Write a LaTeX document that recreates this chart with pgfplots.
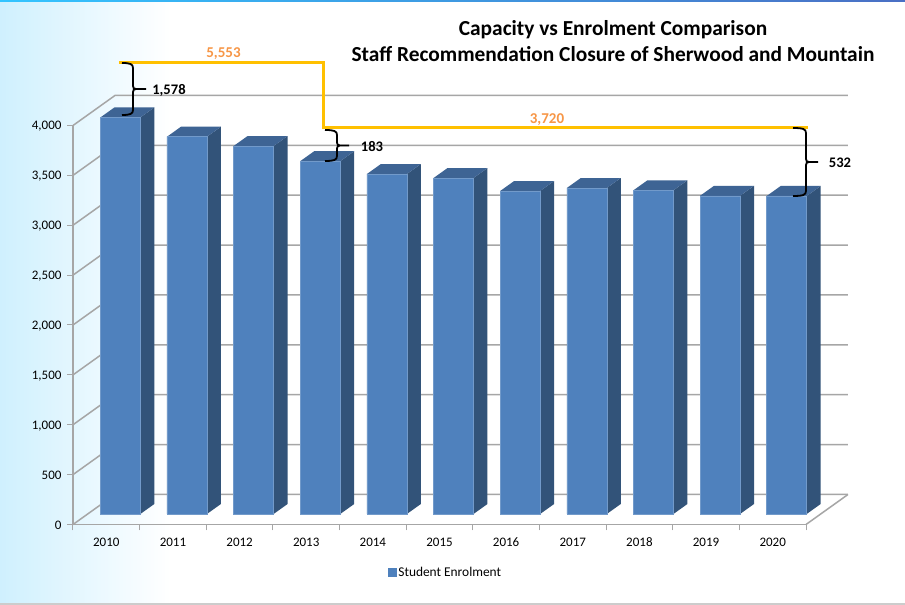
\documentclass[border=0pt]{standalone}
\usepackage{pgfplots}
\pgfplotsset{compat=1.18}
\usepackage{fontspec}
\setmainfont{Carlito}
\definecolor{frontc}{HTML}{4F81BD}
\definecolor{sidec}{HTML}{325379}
\definecolor{topc}{HTML}{3E6494}
\definecolor{gridc}{HTML}{A6A6A6}
\definecolor{capc}{HTML}{FFC000}
\definecolor{numc}{HTML}{F79646}
\definecolor{bgc}{HTML}{CFF0FE}
\definecolor{stripa}{HTML}{33C4FF}
\definecolor{stripb}{HTML}{4A6FC4}
\newcommand\gridl[2]{\addplot[gridc,line width=1.5pt,forget plot] coordinates {(0,#1)(0.63,#2)(11.63,#2)};}
\newcommand\prism[2]{%
 \pgfmathsetmacro\xa{#1+0.3}\pgfmathsetmacro\xb{#1+0.51}%
 \pgfmathsetmacro\xc{#1-0.3}\pgfmathsetmacro\xd{#1-0.09}%
 \pgfmathsetmacro\yt{#2+100.25}%
 \edef\tmp{\noexpand\addplot[fill=sidec,draw=none,forget plot] coordinates {(\xa,0)(\xb,100.25)(\xb,\yt)(\xa,#2)(\xa,0)};
 \noexpand\addplot[fill=topc,draw=none,forget plot] coordinates {(\xc,#2)(\xa,#2)(\xb,\yt)(\xd,\yt)(\xc,#2)};}\tmp}
\newcommand\bracer[5]{% x0 x1 tip ytop ybot
 \pgfmathsetmacro\ym{(#4+#5)/2}%
 \draw[black,line width=1.8pt] (#1,605-#4) .. controls (#2-3,605-#4) and (#2,605-#4-1) .. (#2,605-#4-5)
  -- (#2,605-\ym+3) .. controls (#2,605-\ym+1) and (#2+1,605-\ym) .. (#2+3,605-\ym) -- (#3,605-\ym)
  (#2+3,605-\ym) .. controls (#2+1,605-\ym) and (#2,605-\ym-1) .. (#2,605-\ym-3)
  -- (#2,605-#5+5) .. controls (#2,605-#5+1) and (#2-3,605-#5) .. (#1,605-#5);}
\begin{document}
\begin{tikzpicture}[x=1pt,y=1pt]
\useasboundingbox (0,0) rectangle (905,605);
\fill[white] (0,0) rectangle (905,605);
\fill[left color=bgc,right color=white] (0,0) rectangle (170,605);
\fill[left color=stripa,right color=stripb] (0,603.5) rectangle (905,605);
\fill[black!20] (0,0) rectangle (905,1.5);
% frame, walls and gridlines
\begin{axis}[at={(73pt,80.5pt)},anchor=south west,scale only axis,width=733pt,height=399pt,
 xmin=0,xmax=11,ymin=0,ymax=4000,clip=false,
 axis x line=bottom,axis y line=left,axis line style={gridc,line width=1.5pt,-},
 xtick={0.5,1.5,...,10.5},xticklabels={2010,2011,2012,2013,2014,2015,2016,2017,2018,2019,2020},
 minor xtick={0,1,...,11},
 major x tick style={draw=none},minor tick length=6pt,minor x tick style={gridc,line width=1pt},
 ytick={0,500,...,4000},major tick length=6pt,y tick style={gridc,line width=1pt},
 tick align=outside,
 tick label style={font=\fontsize{13}{15}\selectfont,text=black},
 /pgf/number format/assume math mode=true,
 /pgf/number format/1000 sep={,},
 xticklabel style={yshift=-4pt},
 yticklabel style={xshift=-2pt,yshift=-1pt}]
\gridl{0}{301}\gridl{500}{801}\gridl{1000}{1301}\gridl{1500}{1801}\gridl{2000}{2301}
\gridl{2500}{2801}\gridl{3000}{3301}\gridl{3500}{3801}\gridl{4000}{4301}
\addplot[gridc,line width=1.5pt,forget plot] coordinates {(11,0)(11.63,301)};
\end{axis}
% bars, standing in the floor of the chart
\begin{axis}[at={(87pt,91pt)},anchor=south west,scale only axis,width=733pt,height=399pt,
 xmin=0,xmax=11,ymin=0,ymax=4000,clip=false,hide axis,
 legend style={at={(axis cs:5.38,-590)},anchor=center,draw=none,fill=none,
  font=\fontsize{13.4}{15}\selectfont},
 legend image code/.code={\fill[frontc] (-1pt,-3.5pt) rectangle (7pt,4.5pt);}]
\prism{0.5}{3975}\prism{1.5}{3782}\prism{2.5}{3689}\prism{3.5}{3537}
\prism{4.5}{3408}\prism{5.5}{3368}\prism{6.5}{3238}\prism{7.5}{3268}
\prism{8.5}{3245}\prism{9.5}{3190}\prism{10.5}{3188}
\addplot[ybar,bar width=40pt,fill=frontc,draw=frontc!80!white,line width=0.5pt] coordinates {
 (0.5,3975)(1.5,3782)(2.5,3689)(3.5,3537)(4.5,3408)(5.5,3368)
 (6.5,3238)(7.5,3268)(8.5,3245)(9.5,3190)(10.5,3188)};
\addlegendentry{Student Enrolment}
\end{axis}
% capacity line
\begin{axis}[at={(73pt,80.5pt)},anchor=south west,scale only axis,width=733pt,height=399pt,
 xmin=0,xmax=11,ymin=0,ymax=4000,clip=false,hide axis]
\addplot[capc,line width=3pt,line join=miter] coordinates {(0.69,4627)(3.766,4627)(3.766,3975)(11.03,3975)};
\end{axis}
\bracer{122}{133}{146}{63}{115}
\bracer{325}{337}{349}{130}{161}
\bracer{793}{806}{818}{128}{196}
\node[font=\bfseries\fontsize{14.6}{16}\selectfont,text=black] at (169,515) {1,578};
\node[font=\bfseries\fontsize{14.6}{16}\selectfont,text=black] at (372,458.5) {183};
\node[font=\bfseries\fontsize{14.6}{16}\selectfont,text=black] at (840,442) {532};
\node[font=\bfseries\fontsize{15}{16}\selectfont,text=numc] at (223.5,551) {5,553};
\node[font=\bfseries\fontsize{15}{16}\selectfont,text=numc] at (547,485) {3,720};
\node[font=\bfseries\fontsize{21.4}{26}\selectfont,text=black,align=center] at (613,563.5) {Capacity vs Enrolment Comparison\\Staff Recommendation Closure of Sherwood and Mountain};
\end{tikzpicture}
\end{document}
